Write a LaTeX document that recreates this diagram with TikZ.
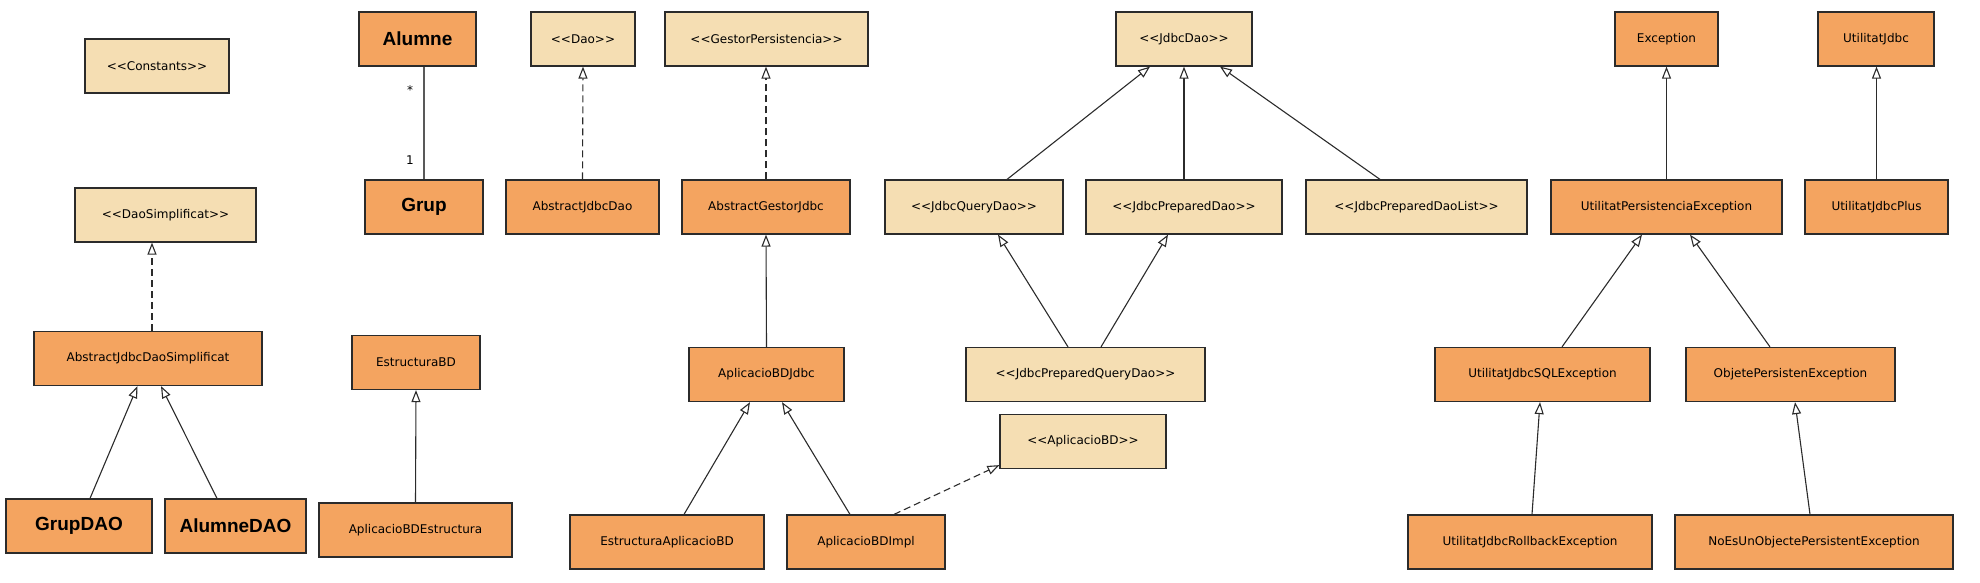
\documentclass[tikz,border=0pt]{standalone}
\usepackage{fontspec}
\setmainfont{DejaVu Sans}
\newfontfamily\heavyfont{Liberation Sans}
\usetikzlibrary{arrows.meta}
\definecolor{clsfill}{HTML}{F4A460}
\definecolor{ifcfill}{HTML}{F5DEB3}
\definecolor{edgecol}{HTML}{2B2B2B}
\newcommand{\stereo}[1]{<\kern0pt<#1>\kern0pt>}

\begin{document}
\begin{tikzpicture}[x=1pt, y=-1pt,
    box/.style={draw=edgecol, line width=1.2pt, minimum height=54pt, inner sep=0pt,
                font=\fontsize{12}{14}\selectfont},
    cls/.style={box, fill=clsfill},
    ifc/.style={box, fill=ifcfill},
    big/.style={font=\heavyfont\bfseries\fontsize{19}{22}\selectfont},
    extends/.style={draw=edgecol, line width=1.1pt,
                    -{Triangle[open, length=12pt, width=9pt, fill=white]}},
    realizes/.style={extends, dash pattern=on 7pt off 4pt}]
  \useasboundingbox (0,0) rectangle (1980,582);

  \node[ifc, minimum width=144pt] (constants) at (157,66) {\stereo{Constants}};
  \node[ifc, minimum width=181pt] (daosimpl) at (165.5,215) {\stereo{DaoSimplificat}};
  \node[cls, minimum width=228pt] (ajds) at (148,358.5) {AbstractJdbcDaoSimplificat};
  \node[cls, big, minimum width=146pt] (grupdao) at (79,526) {GrupDAO};
  \node[cls, big, minimum width=141pt] (alumnedao) at (235.5,526) {AlumneDAO};

  \node[cls, big, minimum width=117pt] (alumne) at (417.5,39) {Alumne};
  \node[cls, big, minimum width=118pt] (grup) at (424,207) {Grup};
  \node[cls, minimum width=128pt] (estructurabd) at (416,362.5) {EstructuraBD};
  \node[cls, minimum width=193pt] (apestructura) at (415.5,530) {AplicacioBDEstructura};

  \node[ifc, minimum width=104pt] (dao) at (583,39) {\stereo{Dao}};
  \node[ifc, minimum width=203pt] (gestor) at (766.5,39) {\stereo{GestorPersistencia}};
  \node[cls, minimum width=153pt] (abjdao) at (582.5,207) {AbstractJdbcDao};
  \node[cls, minimum width=168pt] (abgestor) at (766,207) {AbstractGestorJdbc};
  \node[cls, minimum width=155pt] (apjdbc) at (766.5,374.5) {AplicacioBDJdbc};
  \node[cls, minimum width=194pt] (estap) at (667,542) {EstructuraAplicacioBD};
  \node[cls, minimum width=158pt] (apimpl) at (866,542) {AplicacioBDImpl};
  \node[ifc, minimum width=166pt] (apbd) at (1083,441.5) {\stereo{AplicacioBD}};

  \node[ifc, minimum width=136pt] (jdbcdao) at (1184,39) {\stereo{JdbcDao}};
  \node[ifc, minimum width=178pt] (querydao) at (974,207) {\stereo{JdbcQueryDao}};
  \node[ifc, minimum width=196pt] (prepdao) at (1184,207) {\stereo{JdbcPreparedDao}};
  \node[ifc, minimum width=221pt] (preplist) at (1416.5,207) {\stereo{JdbcPreparedDaoList}};
  \node[ifc, minimum width=239pt] (prepquery) at (1085.5,374.5) {\stereo{JdbcPreparedQueryDao}};

  \node[cls, minimum width=103pt] (exception) at (1666.5,39) {Exception};
  \node[cls, minimum width=116pt] (utiljdbc) at (1876,39) {UtilitatJdbc};
  \node[cls, minimum width=231pt] (utilpers) at (1666.5,207) {UtilitatPersistenciaException};
  \node[cls, minimum width=143pt] (utilplus) at (1876.5,207) {UtilitatJdbcPlus};
  \node[cls, minimum width=215pt] (utilsql) at (1542.5,374.5) {UtilitatJdbcSQLException};
  \node[cls, minimum width=209pt] (objete) at (1790.5,374.5) {ObjetePersistenException};
  \node[cls, minimum width=244pt] (rollback) at (1530,542) {UtilitatJdbcRollbackException};
  \node[cls, minimum width=278pt] (noes) at (1814,542) {NoEsUnObjectePersistentException};

  \draw[draw=black!65, line width=1.6pt] ([xshift=6.5pt]alumne.south) -- (grup.north);
  \node[font=\fontsize{12}{14}\selectfont] (many) at (410,90) {*};
  \node[font=\fontsize{12}{14}\selectfont] (one) at (410,160) {1};

  \draw[realizes] ([xshift=4pt]ajds.north) -- ([xshift=-13.5pt]daosimpl.south);
  \draw[extends] ([xshift=11pt]grupdao.north) -- ([xshift=-10.5pt]ajds.south);
  \draw[extends] ([xshift=-18.5pt]alumnedao.north) -- ([xshift=13pt]ajds.south);
  \draw[extends] (apestructura.north) -- (estructurabd.south);

  \draw[realizes] (abjdao.north) -- (dao.south);
  \draw[realizes] (abgestor.north) -- (abgestor.north |- gestor.south);
  \draw[extends] (apjdbc.north) -- (abgestor.south);
  \draw[extends] ([xshift=17pt]estap.north) -- ([xshift=-16.5pt]apjdbc.south);
  \draw[extends] ([xshift=-16pt]apimpl.north) -- ([xshift=15.5pt]apjdbc.south);
  \draw[realizes] ([xshift=28pt]apimpl.north) -- ([yshift=4pt]apbd.south west);

  \draw[extends] ([xshift=33pt]querydao.north) -- ([xshift=-34pt]jdbcdao.south);
  \draw[extends] (prepdao.north) -- (jdbcdao.south);
  \draw[extends] ([xshift=-36.5pt]preplist.north) -- ([xshift=36pt]jdbcdao.south);
  \draw[extends] ([xshift=-17.5pt]prepquery.north) -- ([xshift=24pt]querydao.south);
  \draw[extends] ([xshift=15.5pt]prepquery.north) -- ([xshift=-16pt]prepdao.south);

  \draw[extends] (utilpers.north) -- (exception.south);
  \draw[extends] (utilplus.north) -- (utilplus.north |- utiljdbc.south);
  \draw[extends] ([xshift=19.5pt]utilsql.north) -- ([xshift=-24.5pt]utilpers.south);
  \draw[extends] ([xshift=-20.5pt]objete.north) -- ([xshift=23.5pt]utilpers.south);
  \draw[extends] ([xshift=2pt]rollback.north) -- ([xshift=-2.5pt]utilsql.south);
  \draw[extends] ([xshift=-4pt]noes.north) -- ([xshift=4.5pt]objete.south);
\end{tikzpicture}
\end{document}
